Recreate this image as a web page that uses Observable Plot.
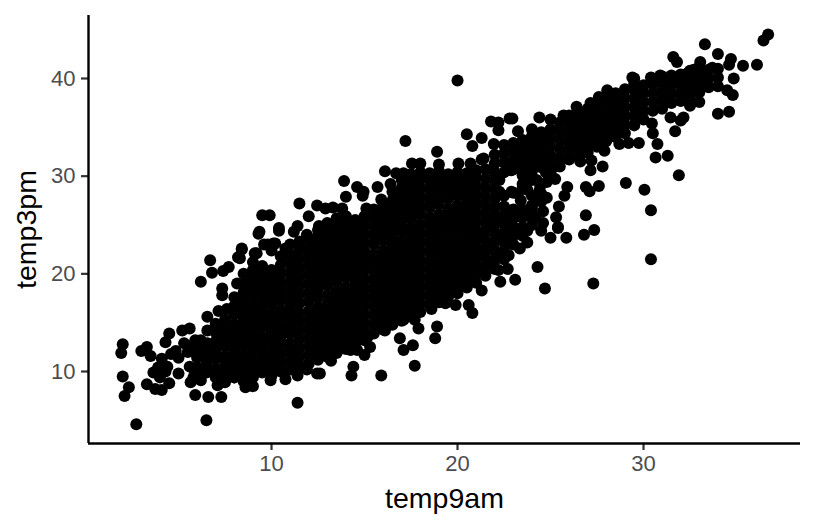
<!DOCTYPE html>
<html><head><meta charset="utf-8">
<script src="https://cdn.jsdelivr.net/npm/d3@7"></script>
<script src="https://cdn.jsdelivr.net/npm/@observablehq/plot@0.6"></script>
<style>html,body{margin:0;padding:0;background:#fff}svg{display:block}</style>
</head><body><div id="chart"></div>
<script>
const xTicks=[10,20,30];
const yTicks=[10,20,30,40];
const xDomain=[0.16,38.44];
const yDomain=[2.63,46.45];
const edgeLowerLeft=[[2,12.8],[1.92,11.9],[2,9.5],[2.33,8.4],[2.1,7.5],[2.73,4.6],[6.5,5],[11.4,6.8],[3,12.1],[3.3,12.5],[3.5,11.6],[4.5,13.9],[4.3,13],[5.2,14.2],[5.6,14.4],[5.9,13.2],[4.1,11.3],[4.85,12.1],[5,11.4],[3.65,9.9],[3.3,8.7],[3.75,8.2],[4.1,8.1],[4.5,8.8],[4,9.4],[4.4,10.5],[5,9.8],[5.65,8.9],[6.2,9.1],[5.9,9.9],[5.9,7.6],[6.6,7.4],[7.3,7.4],[7.1,8.6],[8.6,8.4],[9,8.5],[8,9.4],[9.4,10.1],[9.95,9.1],[10.75,9.2],[11.4,9.6],[11.9,10.2],[12.45,9.8],[3.9,10.4],[4.3,10],[4.6,11.8],[5.3,12.9],[5.5,12],[5.6,10.5],[5.8,9.4],[6.2,10.2],[5.7,12.6],[6.2,13.2],[6,11.8],[4.1,10.4]];
const edgeUpperLeft=[[6.7,21.4],[6.8,20.1],[6.2,19.2],[7.4,20.3],[7.7,20.7],[8.4,22.5],[8.3,21.6],[9.3,24.1],[10.4,24.4],[7.35,18.5],[7.35,17.8],[6.55,15.6],[7.15,16.2],[7.6,16.4],[6.55,14.2],[6.55,12.9],[8.15,19],[9.2,22.1],[9.8,23],[10.2,23.1]];
const edgeUpper=[[17.2,33.6],[20.5,34.3],[21.3,33.9],[20.8,33.1],[18.9,32.5],[17.55,31.3],[18,31.3],[19,31.2],[20.05,31.3],[20.7,31.3],[21.3,31.7],[16.1,30.5],[16.7,30.3],[17.1,30.3],[13.9,29.5],[14.6,28.9],[14.95,28.4],[14.9,28],[15.7,28.9],[14,27.9],[16.4,29.2],[11.5,27.2],[12.45,27],[12.9,26.7],[13.3,26.8],[13.8,26.7],[12,25.9],[13.5,25.7],[9.5,26],[9.9,26],[10.4,24.7],[9.35,24.3],[11.4,24.9],[11.2,24.3],[11.9,24],[12.55,24.9],[13.1,23.9],[14.05,25.1],[15.1,26.7],[15.9,27.6],[8.4,22.6],[8.2,21.7],[9.1,22.1],[9.6,23],[10.1,23.1],[10.75,22.6],[11.45,22.9],[12,22.4],[12.65,22.8],[20,39.8]];
const edgeLower=[[20.6,16.8],[20.8,16],[18.6,16.4],[19.9,16.8],[21.3,18.3],[27.35,24.5],[26.8,24],[25.85,23.7],[25,23.7],[25.4,24.8],[24.3,20.7],[24.7,18.5],[27.3,19],[23.1,19.4],[22.3,19.2],[22.7,20.5],[23.35,22.6],[23.75,23.2],[24.5,24.4],[19.35,17],[18.9,14.6],[18.8,13.4],[17.9,14.4],[17.7,15.3],[17.1,15.3],[16.9,13.4],[17.6,12.7],[17.1,12.2],[17.7,10.6],[15.9,9.6],[14.4,10.5],[14.3,9.6],[15,11.7],[15.3,12.5],[14.25,12.2],[14.6,12.2],[14.4,13.4],[16.1,14.2],[15.15,13.5],[13,11.6],[13.2,11.1],[12.6,9.8],[13.05,12.7]];
const edgeRight=[[36.1,41.4],[35.35,41.3],[34.6,41.4],[34.85,40],[34.5,38.8],[34.8,38.3],[34.6,36.6],[34,36.4],[31.8,41.7],[33.05,41.7],[30.4,40.1],[30.9,40.3],[31.5,40.3],[32.35,40.5],[32.7,40.9],[33.7,41.1],[29.5,40],[28.05,38.8],[27.6,38.1],[27.15,37.5],[26.4,37.1],[25.7,36.2],[25,35.8],[24.4,36],[22.95,35.9],[22.8,35.9],[21.8,35.6],[22.2,35.5],[22.2,34.7],[23.25,34.6],[24,34.8],[21.95,33.3],[21.4,31.8],[32.5,37.2],[33,37.6],[31.45,36],[32.15,36],[32,35.7],[31.7,34.6],[30.75,33.3],[31.3,32.1],[30.65,31.9],[31.9,30.1],[29.75,33.4],[29.2,33.4],[28.7,33.3],[27.9,32.6],[30.5,34.4],[30.45,35.4],[27.8,31],[27.15,30.6],[27.2,31.6],[26.6,31.5],[25.25,31],[29.05,29.3],[30.05,28.6],[30.4,26.5],[30.4,21.5],[27.6,29],[26.9,28.9],[27.1,28.45],[25.9,28.9],[25.75,28],[24.8,29.4],[24.45,29],[25.45,26.9],[24.8,27.8],[25.3,25.8],[25.4,24.7],[26.9,26],[36.45,43.9],[36.7,44.5],[33.3,43.5],[34,42.5],[34.7,42],[31.6,42.2],[29.4,40.1]];
const infill=[[22.2,20.4],[22.25,22.1],[22.25,24],[22.25,25.8],[22.75,21.9],[22.75,23.7],[22.75,25.5],[23.25,24.3],[23.25,25.9],[23.25,28.2],[23.75,24.4],[23.75,26],[23.75,28.6],[24.2,25.8],[24.25,27.6],[24.25,29.6],[24.75,30.4],[25.25,29.7],[21.25,20.2],[21.25,22],[21.25,24],[21.75,21.2],[21.75,23],[21.75,25],[22.25,28.4],[22.25,29.6],[22.9,28.4],[22.9,30.6],[23.4,27.5],[23.5,28.8],[24,26.7],[24,28],[24.4,28.5],[23,25.9],[24.6,26.4],[24.6,25.2]];
const band9am=[6,6.5,7,7.5,8,8.5,9,9.5,10,10.5,11,11.5,12,12.5,13,13.5,14,14.5,15,15.5,16,16.5,17,17.5,18,18.5,19,19.5,20,20.5,21,21.5,22,22.5,23,23.5,24,24.5,25,25.5,26,26.5,27,27.5,28,28.5,29,29.5,30,30.5,31,31.5,32,32.5,33,33.5,34];
const band3pm=[
[10.4,11.4,12.3],
[9.9,10.8,11.7,12.6],
[9.4,10.3,11.3,12.2,13.1,14,14.9],
[8.9,9.8,10.7,11.6,12.6,13.5,14.4,15.3],
[9.4,10.3,11.2,12.1,13,13.9,14.8,15.8,16.7,17.6],
[9,9.9,10.8,11.7,12.7,13.6,14.5,15.4,16.3,17.2,18.1,19,20],
[9.4,10.3,11.2,12.2,13.1,14,14.9,15.8,16.7,17.7,18.6,19.5,20.4,21.2],
[9.9,10.8,11.7,12.6,13.5,14.5,15.4,16.3,17.2,18.1,19,19.9,20.8],
[9.6,10.5,11.4,12.3,13.2,14.1,15,15.9,16.9,17.8,18.7,19.6,20.4,22.4],
[10,10.9,11.8,12.7,13.6,14.5,15.4,16.3,17.3,18.2,19.1,20,20.9,21.8],
[10.2,11.1,12,12.9,13.9,14.8,15.7,16.6,17.5,18.4,19.3,20.2,21.1,22,23],
[10.6,11.5,12.4,13.3,14.2,15.1,16,17,17.9,18.8,19.7,20.6,21.5,22.4,23.3],
[10.8,11.7,12.6,13.5,14.4,15.3,16.2,17.2,18.1,19,19.9,20.8,21.7,22.6,23.5],
[11.2,12.1,13,13.9,14.8,15.7,16.6,17.6,18.5,19.4,20.3,21.2,22.1,23,23.9,24.5],
[11.5,12.4,13.3,14.2,15.1,16,16.9,17.8,18.8,19.7,20.6,21.5,22.4,23.3,24.2,25.2],
[11.9,12.8,13.7,14.6,15.5,16.4,17.3,18.2,19.2,20.1,21,21.9,22.8,23.7,24.6,25.1],
[12.3,13.2,14.1,15,15.9,16.8,17.7,18.6,19.6,20.5,21.4,22.3,23.2,24.1,25,25.9],
[12.9,13.8,14.7,15.6,16.5,17.4,18.3,19.2,20.1,21,21.9,22.8,23.7,24.6,25.5],
[13.2,14.1,15,15.9,16.8,17.7,18.6,19.5,20.5,21.4,22.3,23.2,24.1,25,25.9],
[13.9,14.8,15.7,16.6,17.5,18.4,19.3,20.2,21.1,22,23,23.9,24.8,25.7,26.6],
[14.3,15.2,16.1,17,17.9,18.8,19.7,20.6,21.5,22.4,23.4,24.3,25.2,26.1,27],
[14.8,15.7,16.6,17.5,18.4,19.3,20.2,21.1,22,22.9,23.8,24.8,25.7,26.6,27.5,28.4],
[15.2,16.1,17,17.9,18.8,19.7,20.6,21.5,22.4,23.3,24.3,25.2,26.1,27,27.9,28.8,29.6],
[15.7,16.6,17.5,18.4,19.3,20.2,21.1,22,22.9,23.8,24.7,25.7,26.6,27.5,28.4,29.3,30.2],
[16.1,17,17.9,18.8,19.7,20.6,21.5,22.4,23.3,24.2,25.1,26.1,27,27.9,28.8,29.7,30.4],
[16.8,17.7,18.6,19.5,20.4,21.3,22.2,23.1,24,24.9,25.8,26.8,27.7,28.6,29.5,30.3],
[17.1,18,18.9,19.8,20.7,21.6,22.5,23.4,24.3,25.2,26.1,27.1,28,28.9,29.8,30.5],
[17.7,18.6,19.5,20.4,21.3,22.2,23.1,24,24.9,25.8,26.7,27.7,28.6,29.5,30.2],
[18,18.9,19.8,20.7,21.6,22.5,23.4,24.3,25.2,26.1,27,28,28.9,29.8,30.4],
[18.6,19.5,20.4,21.3,22.2,23.1,24,24.9,25.8,26.7,27.6,28.5,29.4,30.3],
[19.1,20,20.9,21.8,22.7,23.6,24.5,25.4,26.3,27.2,28.1,29,29.9,30.6],
[19.8,20.7,21.6,22.5,23.4,24.3,25.2,26.1,27,27.9,28.8,29.7,30.7],
[20.5,21.4,22.3,23.2,24.1,25,25.9,26.8,27.7,28.6,29.5,30.4,31.3,32.2],
[21.5,22.4,23.3,24.2,25.1,26,26.9,28,30.4,31.4,32.3,33.2],
[23,23.9,24.8,25.7,26.6,28.3,30.7,31.6,32.5,33.4],
[23.9,24.8,25.8,26.6,29.2,30.1,31,31.9,32.8,33.7],
[25,26.1,27,29.6,30.5,31.4,32.3,33.2,34.1],
[27.4,28.2,30.9,31.8,32.7,33.6,34.5],
[30.3,31.2,32.1,33,33.9,34.8],
[31,31.9,32.8,33.7,34.6,35.5],
[31.7,32.6,33.5,34.4,35.3,36.2],
[32,32.9,33.8,34.7,35.6,36.5],
[32.4,33.3,34.2,35.1,36,36.9],
[33,33.9,34.8,35.7,36.6,37.4],
[33.6,34.5,35.4,36.3,37.2,38.1],
[34,34.9,35.8,36.7,37.6,38.5],
[34.4,35.3,36.2,37.1,38,38.9],
[35.2,36.1,37,37.9,38.8,39.5],
[35.8,36.7,37.6,38.5,39.3],
[36.7,37.6,38.5,39.4,40],
[36.9,37.8,38.7,39.6,40.2],
[37.5,38.4,39.3,40.1],
[37.7,38.6,39.5,40.4],
[38.2,39.1,40,40.8],
[38.6,39.5,40.4,41.2],
[39.1,40,40.9],
[39.2,40.1,41]
];
const temp9am=[], temp3pm=[];
for(const [x,y] of [...edgeLowerLeft,...edgeUpperLeft,...edgeUpper,...edgeLower,...edgeRight,...infill]){temp9am.push(x);temp3pm.push(y);}
band9am.forEach((x,i)=>band3pm[i].forEach(y=>{temp9am.push(x);temp3pm.push(y);}));
const idx=d3.range(temp9am.length);
const chart=Plot.plot({
  width:816,height:528,marginLeft:88,marginRight:16,marginTop:15,marginBottom:85,
  style:{fontFamily:"Arial, 'Liberation Sans', sans-serif",background:"#fff"},
  x:{domain:xDomain},
  y:{domain:yDomain},
  marks:[
    Plot.dot(idx,{x:i=>temp9am[i],y:i=>temp3pm[i],r:6,fill:"#000",stroke:"none"}),
    Plot.axisX({ticks:xTicks,tickSize:7,tickPadding:5,label:null,fontSize:22,color:"#4D4D4D",stroke:"#333",strokeWidth:2.2}),
    Plot.axisY({ticks:yTicks,tickSize:7,tickPadding:6,label:null,fontSize:22,color:"#4D4D4D",stroke:"#333",strokeWidth:2.2}),
    Plot.ruleX([xDomain[0]],{stroke:"#000",strokeWidth:2.4}),
    Plot.ruleY([yDomain[0]],{stroke:"#000",strokeWidth:2.4}),
    Plot.axisX({ticks:[],label:"temp9am",labelAnchor:"center",labelArrow:"none",labelOffset:64,fontSize:28.5,color:"#000"}),
    Plot.axisY({ticks:[],label:"temp3pm",labelAnchor:"center",labelArrow:"none",labelOffset:73,fontSize:28.5,color:"#000"})
  ]
});
document.getElementById("chart").append(chart);
</script></body></html>
